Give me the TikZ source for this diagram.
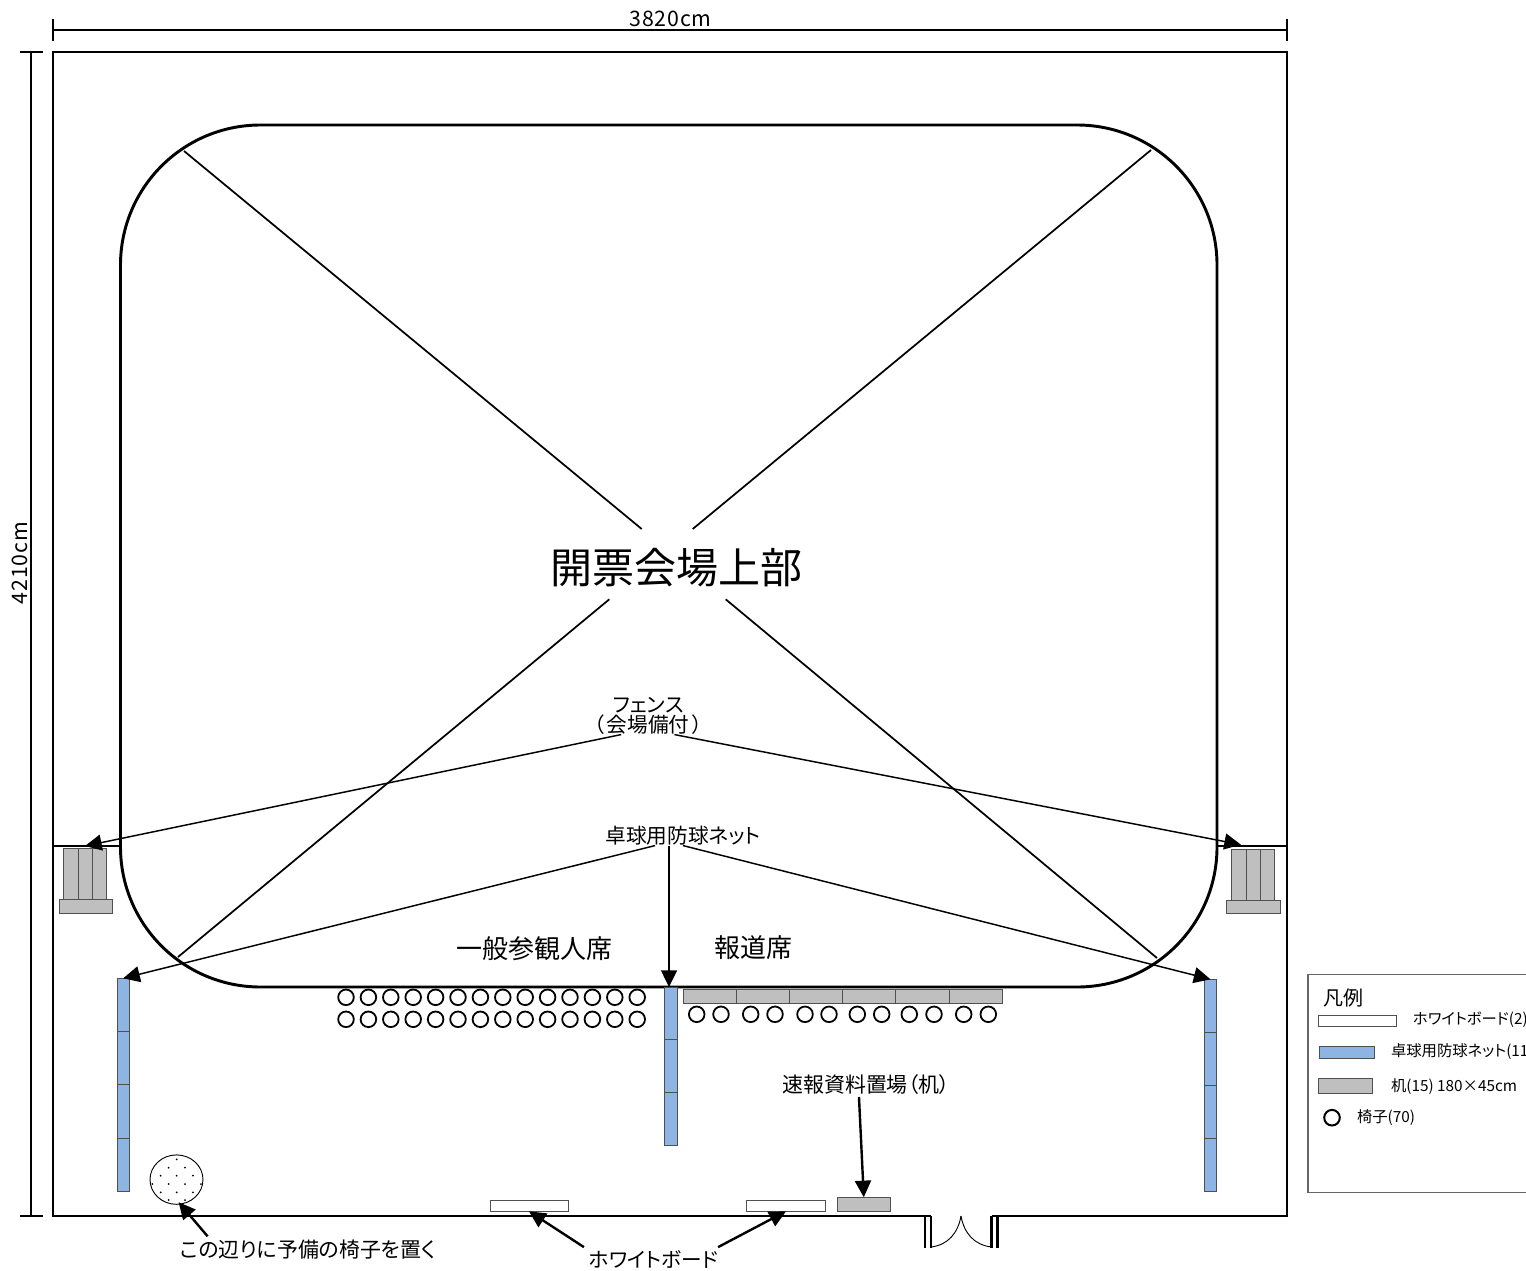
\documentclass[tikz,border=0pt]{standalone}
\usepackage{fontspec}
\setmainfont{Noto Sans CJK JP}[RawFeature=+palt]
\usetikzlibrary{arrows.meta,calc,shapes.geometric}
\definecolor{netblue}{HTML}{8DB4E2}
\definecolor{deskgrey}{HTML}{BFBFBF}
\definecolor{edgegrey}{HTML}{505050}
\newcommand{\fs}[2]{\fontsize{#1pt}{#2pt}\selectfont}
\newcommand{\boxat}[6]{%
  \pgfmathsetmacro\bw{(#5)-(#3)}\pgfmathsetmacro\bh{(#6)-(#4)}%
  \pgfmathsetmacro\bcx{((#3)+(#5))/2}\pgfmathsetmacro\bcy{((#4)+(#6))/2}%
  \node[#2,minimum width=\bw*0.75pt,minimum height=\bh*0.75pt] (#1) at (\bcx,\bcy) {};}
\tikzset{
  base/.style={rectangle,inner sep=0pt,outer sep=0pt,line width=0.7pt,draw=edgegrey},
  netbox/.style={base,fill=netblue},
  deskbox/.style={base,fill=deskgrey},
  wbox/.style={base,fill=white},
  chair/.style={draw=black,line width=1.35pt,fill=white},
  wall/.style={draw=black,line width=2pt},
  dimline/.style={draw=black,line width=1.8pt},
  diag/.style={draw=black,line width=1.3pt},
  thinarrow/.style={draw=black,line width=1.1pt,-{Triangle[length=12.5pt,width=12pt]}},
  thickarrow/.style={draw=black,line width=1.8pt,-{Triangle[length=12.5pt,width=12pt]}},
  lbl/.style={inner sep=0pt,outer sep=0pt,text=black},
}
\begin{document}
\begin{tikzpicture}[x=0.75pt,y=-0.75pt]
\useasboundingbox (0,0) rectangle (1526,1270);
\clip (0,0) rectangle (1526,1270);
\fill[white] (0,0) rectangle (1526,1270);

% room outline and door
\draw[wall,line join=miter] (925,1216) -- (53,1216) -- (53,52) -- (1287,52) -- (1287,1216) -- (997.7,1216);
\draw[wall] (925,1216) -- (931,1216) (925,1216) -- (925,1248) (931,1216) -- (931,1248);
\draw[wall] (991.7,1216) -- (997.7,1216) (991.7,1216) -- (991.7,1248) (997.7,1216) -- (997.7,1248);
\draw[draw=black,line width=0.7pt] (931,1247) .. controls (948,1245) and (958,1233) .. (961,1216);
\draw[draw=black,line width=0.7pt] (991.7,1247) .. controls (974,1245) and (964,1233) .. (961,1216);

% dimensions
\draw[dimline] (53,30) -- (1287,30);
\draw[dimline] (53,19) -- (53,41);
\draw[dimline] (1287,19) -- (1287,41);
\draw[dimline] (31,52) -- (31,1216);
\draw[dimline] (20,52) -- (43,52);
\draw[dimline] (20,1216) -- (43,1216);
\node[lbl,font=\fs{16}{16}\addfontfeature{LetterSpace=4}] (dimW) at (670.5,19) {3820cm};
\node[lbl,font=\fs{16}{16}\addfontfeature{LetterSpace=4},rotate=90] (dimH) at (19.5,563) {4210cm};

% arena
\draw[draw=black,line width=2.2pt,rounded corners=105pt] (120.5,125) rectangle (1217,987);
\draw[wall] (53,846) -- (120.5,846);
\draw[wall] (1217,846) -- (1287,846);

% diagonals
\node[lbl,font=\fs{31.5}{31.5}] (title) at (676,568) {開票会場上部};
\coordinate (cTL) at (184,151);
\coordinate (cTR) at (1151,150);
\coordinate (cBL) at (178,957);
\coordinate (cBR) at (1157,958);
\coordinate (xTL) at (641.7,529);
\coordinate (xTR) at (692.7,529);
\coordinate (xBL) at (609.3,599.3);
\coordinate (xBR) at (725.7,599.3);
\draw[diag] (cTL) -- (xTL);
\draw[diag] (cTR) -- (xTR);
\draw[diag] (cBL) -- (xBL);
\draw[diag] (cBR) -- (xBR);

% fence stacks
\boxat{fL1}{deskbox}{63.5}{848.3}{78.3}{899.3}
\boxat{fL2}{deskbox}{78.3}{848.3}{92.3}{899.3}
\boxat{fL3}{deskbox}{92.3}{848.3}{106.7}{899.3}
\boxat{fLb}{deskbox}{59}{899.3}{112.3}{913.3}
\boxat{fR1}{deskbox}{1231.7}{849}{1246}{900}
\boxat{fR2}{deskbox}{1246}{849}{1260.3}{900}
\boxat{fR3}{deskbox}{1260.3}{849}{1274.3}{900}
\boxat{fRb}{deskbox}{1226.7}{900}{1280}{913.7}
\coordinate (fLtip) at (85,846);
\coordinate (fRtip) at (1241,844.7);

% nets
\boxat{nL1}{netbox}{117}{978.3}{129.3}{1031.3}
\boxat{nL2}{netbox}{117}{1031.3}{129.3}{1084.7}
\boxat{nL3}{netbox}{117}{1084.7}{129.3}{1138}
\boxat{nL4}{netbox}{117}{1138}{129.3}{1191}
\boxat{nC1}{netbox}{664.3}{987}{677}{1039.5}
\boxat{nC2}{netbox}{664.3}{1039.5}{677}{1092.7}
\boxat{nC3}{netbox}{664.3}{1092.7}{677}{1145.7}
\boxat{nR1}{netbox}{1204.3}{979.3}{1216.7}{1032}
\boxat{nR2}{netbox}{1204.3}{1032}{1216.7}{1085.3}
\boxat{nR3}{netbox}{1204.3}{1085.3}{1216.7}{1138.7}
\boxat{nR4}{netbox}{1204.3}{1138.7}{1216.7}{1191.7}

% press desks
\boxat{d1}{deskbox}{683.3}{989}{736.3}{1003.3}
\boxat{d2}{deskbox}{736.3}{989}{789}{1003.3}
\boxat{d3}{deskbox}{789}{989}{842.3}{1003.3}
\boxat{d4}{deskbox}{842.3}{989}{895.7}{1003.3}
\boxat{d5}{deskbox}{895.7}{989}{949}{1003.3}
\boxat{d6}{deskbox}{949}{989}{1002}{1003.3}

% chairs
\foreach \i in {0,...,13} {
  \draw[chair] (346+22.4*\i,997.3) circle[radius=7.8];
  \draw[chair] (346+22.4*\i,1019.3) circle[radius=7.8];
}
\foreach \cx in {696.7,721,750.7,775,805,829,857.3,881.7,909.3,934,963.7,988.3} {
  \draw[chair] (\cx,1014.3) circle[radius=7.8];
}

% whiteboards and desk
\boxat{wb1}{wbox}{490}{1200}{568}{1211.3}
\boxat{wb2}{wbox}{746.7}{1200}{825.3}{1211.3}
\boxat{desk}{deskbox}{837.3}{1197.3}{890.3}{1211.3}

% spare chairs
\node[ellipse,draw=black,line width=0.7pt,fill=white,inner sep=0pt,outer sep=0pt,minimum width=53*0.75pt,minimum height=49.4*0.75pt] (spare) at (176.5,1179.6) {};
\foreach \dx/\dy in {530/1078,506/1103,555/1103,482/1127,530/1127,579/1127,457/1152,506/1152,555/1152,603/1152,482/1177,530/1177,579/1177,506/1200,555/1200} {
  \fill[black] ({\dx/3},{800+\dy/3}) circle[radius=1];
}

% labels
\node[lbl,font=\fs{15.5}{15},align=center] (fence) at (648.3,716) {フェンス\\（\hspace{2pt}会場備付\hspace{2pt}）};
\node[lbl,font=\fs{15.5}{15.5}] (net) at (683,836) {卓球用防球ネット};
\node[lbl,font=\fs{15.5}{15.5}] (wblabel) at (653.5,1259) {ホワイトボード};
\node[lbl,font=\fs{15.7}{15.7}] (sparelabel) at (308,1250) {この辺りに予備の椅子を置く};
\node[lbl,font=\fs{15.7}{15.7}] (desklabel) at (866,1085) {速報資料置場（机）};
\node[lbl,font=\fs{19.5}{19.5}] (general) at (534,949) {一般参観人席};
\node[lbl,font=\fs{19.5}{19.5}] (press) at (753,948) {報道席};

% connectors
\draw[thinarrow] ($(fence.south west)!0.25!(fence.south east)$) -- (fLtip);
\draw[thinarrow] ($(fence.south west)!0.74!(fence.south east)$) -- (fRtip);
\draw[thinarrow] ($(net.south west)!0.32!(net.south east)$) -- (nL1.north);
\coordinate (netmid) at ($(net.south west)!0.41!(net.south east)$);
\draw[thinarrow] (netmid) -- (netmid |- nC1.north);
\draw[thinarrow] ($(net.south west)!0.5!(net.south east)$) -- (nR1.north);
\draw[thickarrow] ($(desklabel.south west)!0.458!(desklabel.south east)+(0,2)$) -- (desk.north);
\draw[thickarrow] ($(wblabel.north west)+(-5,-3)$) -- (wb1.south);
\draw[thickarrow] ($(wblabel.north east)+(0,-3)$) -- (wb2.south);
\draw[thickarrow] ($(sparelabel.north west)!0.107!(sparelabel.north east)+(0,-4)$) -- ($(spare.-85)+(0,-2)$);

% legend
\draw[draw=gray!80!black,line width=0.9pt,fill=white] (1308,974.7) rectangle (1540,1192.7);
\node[lbl,font=\fs{15}{15},anchor=west] (leg) at (1323,998) {凡例};
\boxat{lw}{wbox}{1318.3}{1015.3}{1396.7}{1026.7}
\boxat{ln}{netbox}{1319.3}{1046}{1374}{1058.7}
\boxat{ld}{deskbox}{1318.3}{1078.3}{1372}{1093}
\draw[draw=black,line width=1.5pt] (1332,1117.7) circle[radius=7.8];
\node[lbl,font=\fs{11.5}{11.5},anchor=west] (lwt) at (1413,1020) {ホワイトボード(2)};
\node[lbl,font=\fs{11.5}{11.5},anchor=west] (lnt) at (1391,1052) {卓球用防球ネット(11};
\node[lbl,font=\fs{11.5}{11.5},anchor=west] (ldt) at (1391,1087) {机(15) 180×45cm};
\node[lbl,font=\fs{11.5}{11.5},anchor=west] (lct) at (1357,1118) {椅子(70)};
\end{tikzpicture}
\end{document}
